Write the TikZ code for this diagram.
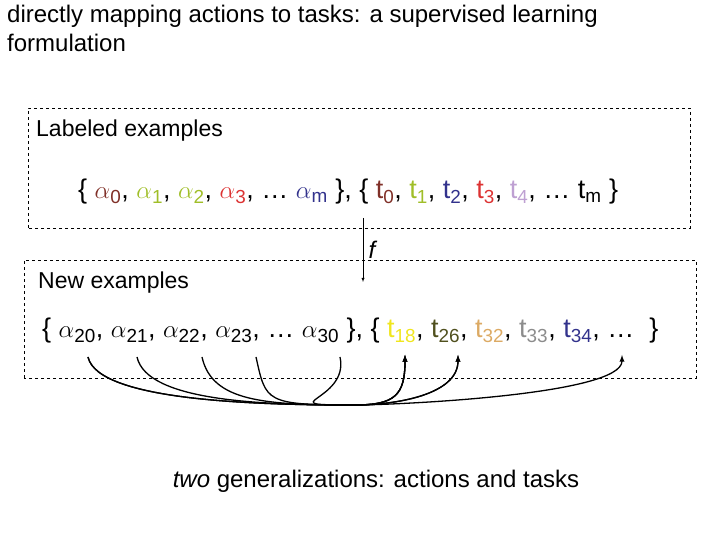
\documentclass[tikz,border=0pt]{standalone}
\usepackage{fontspec}
\setmainfont{Liberation Sans}
\usepackage{xcolor}
\usetikzlibrary{positioning,arrows}
\definecolor{colorbrown} {RGB}{128,48,40}
\definecolor{colorlime}  {RGB}{160,190,40}
\definecolor{colorred}   {RGB}{220,50,50}
\definecolor{colorblue}  {RGB}{50,50,140}
\definecolor{colorlav}   {RGB}{190,160,210}
\definecolor{coloryel}   {RGB}{240,230,30}
\definecolor{colorolive} {RGB}{80,80,30}
\definecolor{colortan}   {RGB}{220,170,100}
\definecolor{colorgray}  {RGB}{140,140,140}
\begin{document}
\begin{tikzpicture}[x=1pt,y=1pt,
    title/.style={anchor=base west,inner sep=0pt,font={\fontsize{23}{26}\selectfont}},
    row/.style={anchor=base west,inner sep=0pt,font={\fontsize{27}{30}\selectfont}},
    box/.style={draw,dashed,thin},
    linkarrow/.style={line width=1.3pt,-latex},
]
    \useasboundingbox (0,0) rectangle (720,540);
    \node[anchor=north west,inner sep=0pt,align=left,font={\fontsize{24}{29}\selectfont}] (head) at (7,535)
        {directly mapping actions to tasks: a supervised learning\\formulation};

    \draw[box] (28,312) rectangle (690,432);
    \node[title] (lab) at (36,403) {Labeled examples};
    \node[row] (toprow) at (78,341) {\{
        \textcolor{colorbrown}{$\alpha$\textsubscript{0}},
        \textcolor{colorlime}{$\alpha$\textsubscript{1}},
        \textcolor{colorlime}{$\alpha$\textsubscript{2}},
        \textcolor{colorred}{$\alpha$\textsubscript{3}}, \ldots\
        \textcolor{colorblue}{$\alpha$\textsubscript{m}} \},\
        \{ \textcolor{colorbrown}{t\textsubscript{0}},
        \textcolor{colorlime}{t\textsubscript{1}},
        \textcolor{colorblue}{t\textsubscript{2}},
        \textcolor{colorred}{t\textsubscript{3}},
        \textcolor{colorlav}{t\textsubscript{4}}, \ldots\ t\textsubscript{m} \}};

    \draw[box] (24,162) rectangle (696,280);
    \node[title] (new) at (38,251) {New examples};
    \node[row] (botrow) at (42,202) {\{ $\alpha$\textsubscript{20}, $\alpha$\textsubscript{21},
        $\alpha$\textsubscript{22}, $\alpha$\textsubscript{23}, \ldots\ $\alpha$\textsubscript{30} \},\
        \{ \textcolor{coloryel}{t\textsubscript{18}},
        \textcolor{colorolive}{t\textsubscript{26}},
        \textcolor{colortan}{t\textsubscript{32}},
        \textcolor{colorgray}{t\textsubscript{33}},
        \textcolor{colorblue}{t\textsubscript{34}}, \ldots\ \ \}};

    \coordinate (ftop) at (363,322);
    \coordinate (fbot) at (363,258);
    \draw[-latex] (ftop) -- (fbot) node[midway,right=2pt,font={\fontsize{24}{26}\selectfont\itshape}] (flab) {f};

    % curve ends
    \coordinate (a20) at (88,183);
    \coordinate (a21) at (137,183);
    \coordinate (a22) at (202,183);
    \coordinate (a23) at (256,183);
    \coordinate (a30) at (340,183);
    \coordinate (t18) at (405,185);
    \coordinate (t26) at (458,185);
    \coordinate (tdots) at (622,185);
    \coordinate (hub) at (355,135);
    \foreach \s/\e in {a20/t26,a21/t18,a22/t26,a23/t18,a30/t18,a20/tdots}
        \draw[linkarrow] (\s) .. controls +(10,-45) and +(-90,0) .. (hub)
                         .. controls +(40,0) and +(0,-40) .. (\e);

    \node[anchor=base,inner sep=0pt,font={\fontsize{24}{26}\selectfont}] (gen) at (376,52)
        {\textit{two} generalizations: actions and tasks};
\end{tikzpicture}
\end{document}
